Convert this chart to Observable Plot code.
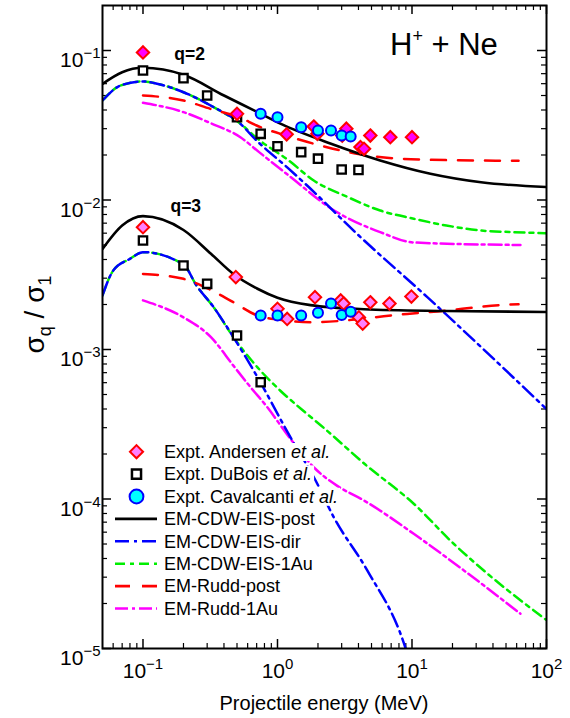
<!DOCTYPE html>
<html><head><meta charset="utf-8">
<script src="https://cdn.jsdelivr.net/npm/d3@7"></script>
<script src="https://cdn.jsdelivr.net/npm/@observablehq/plot@0.6"></script>
<style>body{margin:0;background:#fff}</style>
</head><body><div id="chart"></div>
<script>
// ---------- data (E in MeV, sigma_q/sigma_1) ----------
const andersenQ2 = [[0.1,0.097],[0.5,0.0377],[1.17,0.0275],[1.86,0.031],[1.98,0.0277],[3.03,0.027],[3.25,0.030],[4.14,0.0226],[4.4,0.022],[4.9,0.027],[6.9,0.0263],[10,0.0263]];
const andersenQ3 = [[0.1,0.00658],[0.49,0.00305],[1.0,0.00187],[1.18,0.0016],[1.9,0.00224],[2.95,0.00213],[3.1,0.00203],[4.03,0.00164],[4.3,0.00149],[4.9,0.00207],[6.8,0.00203],[9.9,0.00226]];
const duboisQ2 = [[0.1,0.0735],[0.2,0.0653],[0.3,0.050],[0.5,0.0358],[0.75,0.0277],[1.0,0.0229],[1.5,0.0209],[2.0,0.0189],[3.0,0.016],[4.0,0.0159]];
const duboisQ3 = [[0.1,0.00536],[0.2,0.00365],[0.3,0.00275],[0.5,0.00124],[0.75,0.000604]];
const cavalQ2 = [[0.75,0.0377],[1.0,0.0358],[1.5,0.0307],[2.0,0.0292],[2.5,0.0292],[3.0,0.027],[3.5,0.0266]];
const cavalQ3 = [[0.75,0.00169],[1.0,0.00169],[1.5,0.00169],[2.0,0.00176],[2.5,0.00203],[3.0,0.0017],[3.5,0.00179]];

const cdwPostQ2 = [[0.05,0.0598],[0.07,0.0716],[0.1,0.0766],[0.2,0.0688],[0.4,0.05],[0.71,0.0387],[1.05,0.0324],[2.5,0.0238],[5.8,0.0184],[13.7,0.015],[32.6,0.01315],[100,0.0122]];
const cdwDirQ2 = [[0.05,0.0463],[0.068,0.0583],[0.1,0.0621],[0.127,0.060],[0.2,0.0526],[0.335,0.0418],[0.53,0.0324],[0.66,0.0263],[1.21,0.0162],[1.66,0.0125],[3.9,0.00594],[13,0.00224],[100,0.0004]];
const cdw1AuQ2 = [[0.05,0.0463],[0.068,0.0583],[0.1,0.0621],[0.127,0.060],[0.2,0.0526],[0.335,0.0418],[0.53,0.0324],[0.7,0.026],[1.21,0.0184],[1.86,0.0135],[3.3,0.0105],[5.8,0.0085],[10.3,0.0075],[18,0.00675],[32.6,0.00625],[57,0.0061],[100,0.006]];
const ruddPostQ2 = [[0.1,0.05],[0.2,0.0463],[0.317,0.0407],[0.53,0.0355],[0.7,0.0315],[1.15,0.027],[1.86,0.0238],[4.1,0.0202],[7.3,0.019],[12.3,0.0186],[62,0.0183]];
const rudd1AuQ2 = [[0.1,0.0447],[0.2,0.0387],[0.317,0.0327],[0.53,0.0263],[0.73,0.0209],[1.21,0.0146],[2.64,0.0085],[5.8,0.0061],[10.3,0.0052],[64,0.005]];

const cdwPostQ3 = [[0.05,0.0047],[0.07,0.00675],[0.1,0.0078],[0.2,0.0063],[0.32,0.00437],[0.47,0.0032],[0.71,0.00255],[1.0,0.00222],[1.76,0.00198],[4.4,0.00186],[18,0.00181],[100,0.00178]];
const cdwDirQ3 = [[0.05,0.0023],[0.06,0.00337],[0.08,0.00404],[0.1,0.00448],[0.2,0.0037],[0.25,0.00268],[0.335,0.00192],[0.47,0.00121],[0.71,0.000653],[1.25,0.000258],[1.92,0.000133],[2.62,0.0000755],[4.65,0.0000333],[8.75,0.0000107],[9.5,0.0000085]];
const cdw1AuQ3 = [[0.05,0.0023],[0.06,0.00337],[0.08,0.00404],[0.1,0.00448],[0.2,0.0037],[0.25,0.00268],[0.335,0.00192],[0.47,0.00121],[0.71,0.00076],[1.05,0.00053],[1.5,0.0004],[2.2,0.0003],[4.5,0.00017],[10.3,0.000093],[20.5,0.00005],[36.5,0.0000316],[100,0.0000155]];
const ruddPostQ3 = [[0.1,0.0032],[0.2,0.00297],[0.32,0.0025],[0.47,0.00207],[0.71,0.00169],[1.17,0.00156],[1.76,0.00152],[3.1,0.00156],[5.2,0.00164],[9.2,0.00173],[13.7,0.00178],[54,0.002],[62,0.00201]];
const rudd1AuQ3 = [[0.1,0.00213],[0.2,0.00164],[0.32,0.00121],[0.47,0.00078],[0.63,0.00056],[0.84,0.000411],[1.21,0.000262],[1.9,0.00016],[2.8,0.000122],[4.4,0.0000977],[10.3,0.0000585],[24.3,0.0000333],[64,0.0000171]];

const xMajor = [0.1, 1, 10, 100];
const yMajor = [1e-5, 1e-4, 1e-3, 1e-2, 1e-1];
const qLabels = [{E: 0.171, v: 0.0935, t: "q=2"}, {E: 0.16, v: 0.009, t: "q=3"}];
const legendItems = [
  {kind: "diamond", label: "Expt. Andersen", etal: true},
  {kind: "square", label: "Expt. DuBois", etal: true},
  {kind: "circle", label: "Expt. Cavalcanti", etal: true},
  {kind: "line", stroke: "#000000", dash: null, label: "EM-CDW-EIS-post"},
  {kind: "line", stroke: "#0000ff", dash: "14,5,3,5", label: "EM-CDW-EIS-dir"},
  {kind: "line", stroke: "#00ee00", dash: "10,5,4,5", label: "EM-CDW-EIS-1Au"},
  {kind: "line", stroke: "#ff0000", dash: "15,12", label: "EM-Rudd-post"},
  {kind: "line", stroke: "#ff00ff", dash: "13,4,3,4", label: "EM-Rudd-1Au"}
];

// ---------- layout ----------
const W = 570, H = 718, mL = 102, mR = 24, mT = 5, mB = 70;
const iW = W - mL - mR, iH = H - mT - mB;
const FONT = "'Liberation Sans', Arial, Helvetica, sans-serif";

function minors(lo, hi) {
  const out = [];
  for (let e = Math.floor(Math.log10(lo)); e <= Math.ceil(Math.log10(hi)); e++)
    for (let k = 2; k <= 9; k++) { const v = k * Math.pow(10, e); if (v > lo * 1.001 && v < hi * 0.999) out.push(v); }
  return out;
}
const xMinor = minors(0.05, 100), yMinor = minors(1e-5, 0.2);

const ln = (data, stroke, dash, w = 2.5) => Plot.line(data, {x: d => d[0], y: d => d[1], stroke, strokeWidth: w, strokeDasharray: dash, curve: "monotone-x", clip: true});
const expFmt = d => "10^" + Math.round(Math.log10(d));

const chart = Plot.plot({
  width: W, height: H, marginLeft: mL, marginRight: mR, marginTop: mT, marginBottom: mB,
  style: {fontFamily: FONT, fontSize: "21px", background: "#fff", color: "#000", overflow: "visible"},
  x: {type: "log", domain: [0.05, 100]},
  y: {type: "log", domain: [1e-5, 0.2]},
  marks: [
    Plot.axisX({ticks: xMajor, tickSize: 0, tickPadding: 15, tickFormat: expFmt, label: null}),
    Plot.axisY({ticks: yMajor, tickSize: 0, tickPadding: 2, tickFormat: expFmt, label: null}),
    // inward ticks
    Plot.tickX(xMajor, {x: d => d, insetTop: iH - 9, stroke: "#000", strokeWidth: 1.5}),
    Plot.tickX(xMajor, {x: d => d, insetBottom: iH - 9, stroke: "#000", strokeWidth: 1.5}),
    Plot.tickX(xMinor, {x: d => d, insetTop: iH - 5, stroke: "#000", strokeWidth: 1.2}),
    Plot.tickX(xMinor, {x: d => d, insetBottom: iH - 5, stroke: "#000", strokeWidth: 1.2}),
    Plot.tickY(yMajor, {y: d => d, insetRight: iW - 9, stroke: "#000", strokeWidth: 1.5}),
    Plot.tickY(yMajor, {y: d => d, insetLeft: iW - 9, stroke: "#000", strokeWidth: 1.5}),
    Plot.tickY(yMinor, {y: d => d, insetRight: iW - 5, stroke: "#000", strokeWidth: 1.2}),
    Plot.tickY(yMinor, {y: d => d, insetLeft: iW - 5, stroke: "#000", strokeWidth: 1.2}),
    // theory curves
    ln(rudd1AuQ2, "#ff00ff", "13,4,3,4"), ln(rudd1AuQ3, "#ff00ff", "13,4,3,4"),
    ln(cdw1AuQ2, "#00ee00", "10,5,4,5"), ln(cdw1AuQ3, "#00ee00", "10,5,4,5"),
    ln(cdwDirQ2, "#0000ff", "14,5,3,5"), ln(cdwDirQ3, "#0000ff", "14,5,3,5"),
    ln(ruddPostQ2, "#ff0000", "15,12"), ln(ruddPostQ3, "#ff0000", "15,12"),
    ln(cdwPostQ2, "#000000", null, 2.6), ln(cdwPostQ3, "#000000", null, 2.6),
    // experiments
    Plot.dot(duboisQ2, {x: d => d[0], y: d => d[1], symbol: "square2", r: 5.3, fill: "#fff", stroke: "#000", strokeWidth: 2.3}),
    Plot.dot(duboisQ3, {x: d => d[0], y: d => d[1], symbol: "square2", r: 5.3, fill: "#fff", stroke: "#000", strokeWidth: 2.3}),
    Plot.dot(andersenQ2, {x: d => d[0], y: d => d[1], symbol: "diamond2", r: 5.6, fill: "#ff00ff", stroke: "#ff0000", strokeWidth: 2}),
    Plot.dot(andersenQ3, {x: d => d[0], y: d => d[1], symbol: "diamond2", r: 5.6, fill: "#ff80ff", stroke: "#ff0000", strokeWidth: 2}),
    Plot.dot(cavalQ2, {x: d => d[0], y: d => d[1], symbol: "circle", r: 5, fill: "#00ffff", stroke: "#0000ff", strokeWidth: 2}),
    Plot.dot(cavalQ3, {x: d => d[0], y: d => d[1], symbol: "circle", r: 5, fill: "#00ffff", stroke: "#0000ff", strokeWidth: 2}),
    // labels
    Plot.text(qLabels, {x: "E", y: "v", text: "t", textAnchor: "start", fontSize: 17.5, fontWeight: "bold", fill: "#000"}),
    Plot.frame({stroke: "#000", strokeWidth: 2})
  ]
});
document.getElementById("chart").appendChild(chart);

const svg = d3.select(chart);
// superscript exponents on tick labels
svg.selectAll("text").filter(function () { return /^10\^/.test(this.textContent); }).each(function () {
  const el = d3.select(this);
  const exp = this.textContent.split("^")[1].replace("-", "\u2212");
  el.text("");
  el.append("tspan").text("10");
  el.append("tspan").attr("font-size", 15).attr("dy", -9).text(exp);
});
svg.selectAll('g[aria-label="y-axis tick label"] text').attr("dy", "0.47em");

// title
const title = svg.append("text").attr("x", 390).attr("y", 55).attr("text-anchor", "start").attr("font-size", 31).attr("font-family", FONT).attr("fill", "#000");
title.append("tspan").text("H");
title.append("tspan").attr("font-size", 18).attr("dy", -13).text("+");
title.append("tspan").attr("dy", 13).text(" + Ne");

// axis titles
svg.append("text").attr("x", mL + iW / 2).attr("y", 710).attr("text-anchor", "middle").attr("font-size", 20).attr("font-family", FONT).attr("fill", "#000").text("Projectile energy (MeV)");
const yl = svg.append("text").attr("transform", `translate(44,${mT + iH / 2 - 12}) rotate(-90)`).attr("text-anchor", "middle").attr("font-size", 28).attr("font-family", FONT).attr("fill", "#000");
yl.append("tspan").text("\u03c3");
yl.append("tspan").attr("font-size", 18).attr("dy", 7).text("q");
yl.append("tspan").attr("dy", -7).text(" / \u03c3");
yl.append("tspan").attr("font-size", 18).attr("dy", 7).text("1");

// legend
const L0 = 451.7, LS = 22.4, LX0 = 115, LX1 = 157, LM = 136.5, LT = 164;
const lg = svg.append("g").attr("font-family", FONT).attr("font-size", 18).attr("text-anchor", "start");
const bgG = lg.append("g"), symG = lg.append("g"), txtG = lg.append("g");
legendItems.forEach((it, i) => {
  const y = L0 + i * LS;
  const t = txtG.append("text").attr("x", LT).attr("y", y).attr("dy", "0.35em").attr("text-anchor", "start").attr("fill", "#000");
  t.append("tspan").text(it.label);
  if (it.etal) { t.append("tspan").text(" "); t.append("tspan").attr("font-style", "italic").text("et al."); }
  const bb = t.node().getBBox();
  bgG.append("rect").attr("x", bb.x - 2).attr("y", bb.y + 1).attr("width", bb.width + 4).attr("height", bb.height - 2).attr("fill", "#fff");
  if (it.kind === "line") {
    symG.append("line").attr("x1", LX0).attr("x2", LX1).attr("y1", y).attr("y2", y)
      .attr("stroke", it.stroke).attr("stroke-width", 2.6).attr("stroke-dasharray", it.dash);
  } else {
    const sym = it.kind === "diamond" ? d3.symbolDiamond2 : it.kind === "square" ? d3.symbolSquare2 : d3.symbolCircle;
    const size = it.kind === "diamond" ? 110 : it.kind === "square" ? 105 : 150;
    const p = symG.append("path").attr("transform", `translate(${LM},${y})`).attr("d", d3.symbol(sym, size)());
    if (it.kind === "diamond") p.attr("fill", "#ff80ff").attr("stroke", "#ff0000").attr("stroke-width", 2);
    else if (it.kind === "square") p.attr("fill", "#fff").attr("stroke", "#000").attr("stroke-width", 2.5);
    else p.attr("fill", "#00ffff").attr("stroke", "#0000ff").attr("stroke-width", 2);
  }
});
</script></body></html>
